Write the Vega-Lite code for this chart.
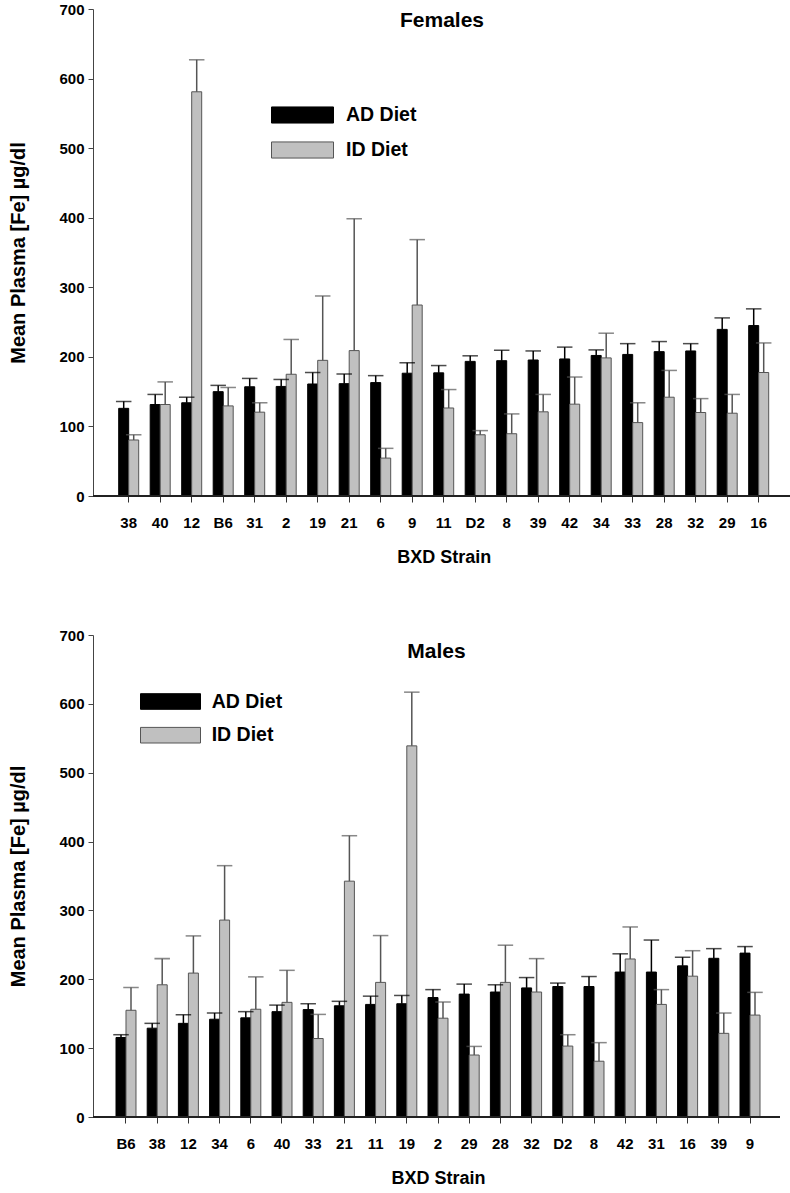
{
  "$schema": "https://vega.github.io/schema/vega-lite/v6.json",
  "padding": {"left": 8, "top": 2, "right": 0, "bottom": 0},
  "background": "white",
  "config": {
    "view": {"stroke": null},
    "font": "Liberation Sans",
    "axis": {"labelFont": "Liberation Sans", "titleFont": "Liberation Sans", "labelFontWeight": "bold", "titleFontWeight": "bold", "labelColor": "#000", "titleColor": "#000", "grid": false},
    "legend": {"labelFont": "Liberation Sans", "labelFontWeight": "bold"}
  },
  "datasets": {
    "females": [
      {"strain": "38", "diet": "AD Diet", "value": 126, "upper": 136},
      {"strain": "38", "diet": "ID Diet", "value": 80.5, "upper": 88},
      {"strain": "40", "diet": "AD Diet", "value": 131.5, "upper": 146},
      {"strain": "40", "diet": "ID Diet", "value": 131.5, "upper": 164},
      {"strain": "12", "diet": "AD Diet", "value": 134, "upper": 142},
      {"strain": "12", "diet": "ID Diet", "value": 581, "upper": 627},
      {"strain": "B6", "diet": "AD Diet", "value": 150, "upper": 159},
      {"strain": "B6", "diet": "ID Diet", "value": 129.5, "upper": 156},
      {"strain": "31", "diet": "AD Diet", "value": 157, "upper": 169},
      {"strain": "31", "diet": "ID Diet", "value": 120.5, "upper": 134},
      {"strain": "2", "diet": "AD Diet", "value": 157.5, "upper": 167.5},
      {"strain": "2", "diet": "ID Diet", "value": 175, "upper": 225},
      {"strain": "19", "diet": "AD Diet", "value": 161, "upper": 177.5},
      {"strain": "19", "diet": "ID Diet", "value": 195, "upper": 287.5},
      {"strain": "21", "diet": "AD Diet", "value": 161.5, "upper": 175.5},
      {"strain": "21", "diet": "ID Diet", "value": 209, "upper": 398.5},
      {"strain": "6", "diet": "AD Diet", "value": 163, "upper": 173},
      {"strain": "6", "diet": "ID Diet", "value": 54.5, "upper": 68.5},
      {"strain": "9", "diet": "AD Diet", "value": 176.5, "upper": 191.5},
      {"strain": "9", "diet": "ID Diet", "value": 274.5, "upper": 368.5},
      {"strain": "11", "diet": "AD Diet", "value": 177, "upper": 187.5},
      {"strain": "11", "diet": "ID Diet", "value": 126.5, "upper": 153},
      {"strain": "D2", "diet": "AD Diet", "value": 193.5, "upper": 201.5},
      {"strain": "D2", "diet": "ID Diet", "value": 88, "upper": 94},
      {"strain": "8", "diet": "AD Diet", "value": 194.5, "upper": 209.5},
      {"strain": "8", "diet": "ID Diet", "value": 89.5, "upper": 118},
      {"strain": "39", "diet": "AD Diet", "value": 195.5, "upper": 208.5},
      {"strain": "39", "diet": "ID Diet", "value": 121, "upper": 146},
      {"strain": "42", "diet": "AD Diet", "value": 197, "upper": 214},
      {"strain": "42", "diet": "ID Diet", "value": 132, "upper": 171},
      {"strain": "34", "diet": "AD Diet", "value": 202, "upper": 210},
      {"strain": "34", "diet": "ID Diet", "value": 198.5, "upper": 234},
      {"strain": "33", "diet": "AD Diet", "value": 203.5, "upper": 219},
      {"strain": "33", "diet": "ID Diet", "value": 105.5, "upper": 134},
      {"strain": "28", "diet": "AD Diet", "value": 207.5, "upper": 222},
      {"strain": "28", "diet": "ID Diet", "value": 142, "upper": 180.5},
      {"strain": "32", "diet": "AD Diet", "value": 208.5, "upper": 219},
      {"strain": "32", "diet": "ID Diet", "value": 120, "upper": 140},
      {"strain": "29", "diet": "AD Diet", "value": 239.5, "upper": 256},
      {"strain": "29", "diet": "ID Diet", "value": 119, "upper": 146},
      {"strain": "16", "diet": "AD Diet", "value": 245, "upper": 269},
      {"strain": "16", "diet": "ID Diet", "value": 177.5, "upper": 220}
    ],
    "males": [
      {"strain": "B6", "diet": "AD Diet", "value": 115.5, "upper": 119.5},
      {"strain": "B6", "diet": "ID Diet", "value": 155, "upper": 188},
      {"strain": "38", "diet": "AD Diet", "value": 129, "upper": 136},
      {"strain": "38", "diet": "ID Diet", "value": 192, "upper": 230},
      {"strain": "12", "diet": "AD Diet", "value": 136, "upper": 148.5},
      {"strain": "12", "diet": "ID Diet", "value": 209, "upper": 263},
      {"strain": "34", "diet": "AD Diet", "value": 142, "upper": 151},
      {"strain": "34", "diet": "ID Diet", "value": 286, "upper": 365},
      {"strain": "6", "diet": "AD Diet", "value": 144, "upper": 153},
      {"strain": "6", "diet": "ID Diet", "value": 156.5, "upper": 203.5},
      {"strain": "40", "diet": "AD Diet", "value": 153, "upper": 162.5},
      {"strain": "40", "diet": "ID Diet", "value": 166.5, "upper": 213},
      {"strain": "33", "diet": "AD Diet", "value": 156, "upper": 164.5},
      {"strain": "33", "diet": "ID Diet", "value": 114, "upper": 149},
      {"strain": "21", "diet": "AD Diet", "value": 161.5, "upper": 168},
      {"strain": "21", "diet": "ID Diet", "value": 342.5, "upper": 408.5},
      {"strain": "11", "diet": "AD Diet", "value": 163.5, "upper": 175.5},
      {"strain": "11", "diet": "ID Diet", "value": 195.5, "upper": 263.5},
      {"strain": "19", "diet": "AD Diet", "value": 164.5, "upper": 176.5},
      {"strain": "19", "diet": "ID Diet", "value": 539, "upper": 617},
      {"strain": "2", "diet": "AD Diet", "value": 173.5, "upper": 185},
      {"strain": "2", "diet": "ID Diet", "value": 143.5, "upper": 167},
      {"strain": "29", "diet": "AD Diet", "value": 178.5, "upper": 193},
      {"strain": "29", "diet": "ID Diet", "value": 90, "upper": 102.5},
      {"strain": "28", "diet": "AD Diet", "value": 181.5, "upper": 192},
      {"strain": "28", "diet": "ID Diet", "value": 195.5, "upper": 249.5},
      {"strain": "32", "diet": "AD Diet", "value": 187.5, "upper": 202.5},
      {"strain": "32", "diet": "ID Diet", "value": 181.5, "upper": 230},
      {"strain": "D2", "diet": "AD Diet", "value": 189.5, "upper": 194.5},
      {"strain": "D2", "diet": "ID Diet", "value": 103, "upper": 119.5},
      {"strain": "8", "diet": "AD Diet", "value": 189.5, "upper": 204},
      {"strain": "8", "diet": "ID Diet", "value": 81, "upper": 108},
      {"strain": "42", "diet": "AD Diet", "value": 210.5, "upper": 237},
      {"strain": "42", "diet": "ID Diet", "value": 229.5, "upper": 276},
      {"strain": "31", "diet": "AD Diet", "value": 210.5, "upper": 257},
      {"strain": "31", "diet": "ID Diet", "value": 163.5, "upper": 185},
      {"strain": "16", "diet": "AD Diet", "value": 219.5, "upper": 232},
      {"strain": "16", "diet": "ID Diet", "value": 204.5, "upper": 241.5},
      {"strain": "39", "diet": "AD Diet", "value": 230.5, "upper": 244.5},
      {"strain": "39", "diet": "ID Diet", "value": 121.5, "upper": 151},
      {"strain": "9", "diet": "AD Diet", "value": 238, "upper": 247.5},
      {"strain": "9", "diet": "ID Diet", "value": 148, "upper": 181}
    ]
  },
  "spacing": 62,
  "resolve": {"scale": {"fill": "independent", "stroke": "independent", "x": "independent", "y": "independent", "xOffset": "independent"}},
  "vconcat": [
    {
      "width": 698,
      "height": 487,
      "data": {"name": "females"},
      "title": {"text": "Females", "frame": "group", "anchor": "middle", "offset": 0, "dy": 45.5, "baseline": "alphabetic", "fontSize": 21, "font": "Liberation Sans", "fontWeight": "bold", "color": "#000"},
      "layer": [
        {
          "mark": {"type": "bar", "strokeWidth": 1},
          "encoding": {
            "x": {"field": "strain", "type": "nominal", "sort": ["38","40","12","B6","31","2","19","21","6","9","11","D2","8","39","42","34","33","28","32","29","16"], "scale": {"range": [25.7, 675.7], "paddingInner": 0.365, "paddingOuter": 0}, "axis": {"title": "BXD Strain", "domain": false, "labelAngle": 0, "tickColor": "#333", "tickSize": 6, "labelFontSize": 15, "labelPadding": 13, "titleFontSize": 18, "titlePadding": 18}},
            "xOffset": {"field": "diet", "type": "nominal", "sort": ["AD Diet", "ID Diet"], "scale": {"paddingInner": 0, "paddingOuter": 0}},
            "y": {"field": "value", "type": "quantitative", "scale": {"domain": [0, 700], "nice": false}, "axis": {"title": "Mean Plasma [Fe] µg/dl", "values": [0,100,200,300,400,500,600,700], "domainColor": "#444", "tickColor": "#444", "tickSize": 5, "labelPadding": 4, "labelFontSize": 15, "titleFontSize": 20, "titlePadding": 30}},
            "fill": {"field": "diet", "type": "nominal", "scale": {"domain": ["AD Diet", "ID Diet"], "range": ["#000000", "#c0c0c0"]}, "legend": {"title": null, "orient": "none", "legendX": 193.5, "legendY": 90, "symbolType": "M-2,-0.52H2V0.52H-2Z", "symbolSize": 961, "symbolStrokeWidth": 1, "labelFontSize": 19.5, "labelOffset": 27.5, "rowPadding": 8, "padding": 0}},
            "stroke": {"field": "diet", "type": "nominal", "scale": {"domain": ["AD Diet", "ID Diet"], "range": ["#000000", "#555555"]}}
          }
        },
        {
          "mark": {"type": "rule", "strokeWidth": 1.5},
          "encoding": {
            "x": {"field": "strain", "type": "nominal", "sort": ["38","40","12","B6","31","2","19","21","6","9","11","D2","8","39","42","34","33","28","32","29","16"]},
            "xOffset": {"field": "diet", "type": "nominal", "sort": ["AD Diet", "ID Diet"]},
            "y": {"field": "value", "type": "quantitative"},
            "y2": {"field": "upper"},
            "stroke": {"field": "diet", "type": "nominal"}
          }
        },
        {
          "mark": {"type": "tick", "orient": "horizontal", "size": 14, "thickness": 0.01, "strokeWidth": 1.5, "filled": false},
          "encoding": {
            "x": {"field": "strain", "type": "nominal", "sort": ["38","40","12","B6","31","2","19","21","6","9","11","D2","8","39","42","34","33","28","32","29","16"]},
            "xOffset": {"field": "diet", "type": "nominal", "sort": ["AD Diet", "ID Diet"]},
            "y": {"field": "upper", "type": "quantitative"},
            "stroke": {"field": "diet", "type": "nominal"}
          }
        },
        {
          "mark": {"type": "rule", "color": "#222", "strokeWidth": 1.5},
          "encoding": {"y": {"datum": 0}}
        }
      ]
    },
    {
      "width": 687,
      "height": 482,
      "data": {"name": "males"},
      "title": {"text": "Males", "frame": "group", "anchor": "middle", "offset": 0, "dy": 51, "baseline": "alphabetic", "fontSize": 21, "font": "Liberation Sans", "fontWeight": "bold", "color": "#000"},
      "layer": [
        {
          "mark": {"type": "bar", "strokeWidth": 1},
          "encoding": {
            "x": {"field": "strain", "type": "nominal", "sort": ["B6","38","12","34","6","40","33","21","11","19","2","29","28","32","D2","8","42","31","16","39","9"], "scale": {"range": [23, 667], "paddingInner": 0.359, "paddingOuter": 0}, "axis": {"title": "BXD Strain", "domain": false, "labelAngle": 0, "tickColor": "#333", "tickSize": 6, "labelFontSize": 15, "labelPadding": 13, "titleFontSize": 18, "titlePadding": 18}},
            "xOffset": {"field": "diet", "type": "nominal", "sort": ["AD Diet", "ID Diet"], "scale": {"paddingInner": 0, "paddingOuter": 0}},
            "y": {"field": "value", "type": "quantitative", "scale": {"domain": [0, 700], "nice": false}, "axis": {"title": "Mean Plasma [Fe] µg/dl", "values": [0,100,200,300,400,500,600,700], "domainColor": "#444", "tickColor": "#444", "tickSize": 5, "labelPadding": 4, "labelFontSize": 15, "titleFontSize": 20, "titlePadding": 30}},
            "fill": {"field": "diet", "type": "nominal", "scale": {"domain": ["AD Diet", "ID Diet"], "range": ["#000000", "#c0c0c0"]}, "legend": {"title": null, "orient": "none", "legendX": 62, "legendY": 51, "symbolType": "M-2,-0.52H2V0.52H-2Z", "symbolSize": 900, "symbolStrokeWidth": 1, "labelFontSize": 19.5, "labelOffset": 25.7, "rowPadding": 7.7, "padding": 0}},
            "stroke": {"field": "diet", "type": "nominal", "scale": {"domain": ["AD Diet", "ID Diet"], "range": ["#000000", "#555555"]}}
          }
        },
        {
          "mark": {"type": "rule", "strokeWidth": 1.5},
          "encoding": {
            "x": {"field": "strain", "type": "nominal", "sort": ["B6","38","12","34","6","40","33","21","11","19","2","29","28","32","D2","8","42","31","16","39","9"]},
            "xOffset": {"field": "diet", "type": "nominal", "sort": ["AD Diet", "ID Diet"]},
            "y": {"field": "value", "type": "quantitative"},
            "y2": {"field": "upper"},
            "stroke": {"field": "diet", "type": "nominal"}
          }
        },
        {
          "mark": {"type": "tick", "orient": "horizontal", "size": 14, "thickness": 0.01, "strokeWidth": 1.5, "filled": false},
          "encoding": {
            "x": {"field": "strain", "type": "nominal", "sort": ["B6","38","12","34","6","40","33","21","11","19","2","29","28","32","D2","8","42","31","16","39","9"]},
            "xOffset": {"field": "diet", "type": "nominal", "sort": ["AD Diet", "ID Diet"]},
            "y": {"field": "upper", "type": "quantitative"},
            "stroke": {"field": "diet", "type": "nominal"}
          }
        },
        {
          "mark": {"type": "rule", "color": "#222", "strokeWidth": 1.5},
          "encoding": {"y": {"datum": 0}}
        }
      ]
    }
  ]
}
